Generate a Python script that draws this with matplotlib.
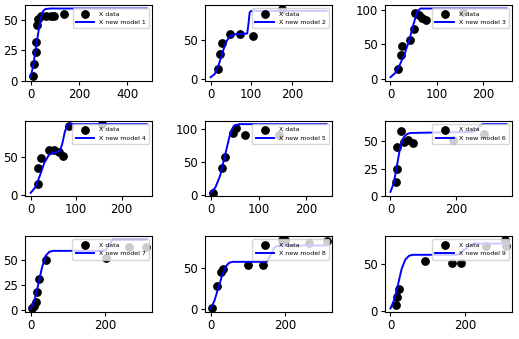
import matplotlib
matplotlib.use("Agg")
import matplotlib.pyplot as plt

# measured data points per panel
data_x = [
    [11, 14, 21, 21, 25, 32, 41, 62, 83, 97, 138],
    [17, 23, 27, 47, 72, 104, 176],
    [17, 23, 24, 43, 50, 53, 62, 69, 76, 157],
    [15, 17, 22, 40, 51, 62, 70, 84, 157],
    [5, 23, 30, 47, 54, 71, 143],
    [16, 20, 20, 31, 41, 54, 67, 190, 284],
    [3, 9, 15, 18, 22, 40, 202, 264, 310],
    [5, 18, 27, 34, 100, 140, 191, 200, 262, 310],
    [16, 18, 22, 93, 165, 190, 258, 307, 312],
]
data_y = [
    [4, 13.5, 24, 32, 46, 51, 53, 53, 53, 53, 55],
    [12, 32, 46, 58, 57, 55, 90],
    [14, 34, 47, 56, 72, 95, 93, 88, 86, 97],
    [14, 35, 48, 59, 58, 56, 51, 89, 92],
    [4, 41, 57, 94, 101, 90, 91],
    [13, 25, 44, 59, 49, 51, 48, 51, 56],
    [2, 4, 8, 18, 31, 50, 52, 63, 63],
    [2, 28, 46, 49, 54, 54, 85, 85, 81, 83],
    [7, 15.5, 24, 53, 51, 51, 69, 76, 69],
]

# fitted model curves
model_x = [
    [0, 10, 20, 30, 40, 50, 60, 80, 480],
    [0, 10, 20, 30, 40, 50, 60, 90, 93, 96, 100, 285],
    [0, 10, 20, 30, 40, 50, 58, 65, 250],
    [0, 10, 20, 30, 40, 50, 60, 65, 70, 75, 80, 85, 90, 255],
    [0, 10, 20, 30, 40, 45, 50, 60, 242],
    [0, 10, 20, 30, 40, 50, 60, 250, 260, 270, 280, 352],
    [0, 10, 20, 30, 40, 50, 60, 200, 210, 220, 312],
    [0, 10, 20, 30, 40, 50, 60, 150, 160, 170, 180, 310],
    [0, 10, 20, 30, 40, 50, 60, 180, 195, 210, 225, 312],
]
model_y = [
    [3, 12, 25, 38, 50, 57, 59, 59.5, 59.5],
    [2, 6, 18, 35, 49, 55, 57, 58, 70, 85, 87, 87],
    [2, 8, 20, 35, 55, 80, 98, 102, 102],
    [3, 10, 25, 42, 52, 55, 56, 58, 68, 82, 90, 92, 92, 92],
    [4, 12, 30, 60, 90, 100, 105, 107, 107],
    [4, 12, 28, 45, 53, 56, 57, 58, 60, 63, 65, 65],
    [2, 10, 25, 42, 54, 58, 59, 59, 64, 70, 70],
    [1, 10, 25, 40, 52, 57, 58, 58, 66, 75, 78, 78],
    [3, 12, 28, 45, 55, 59, 60, 60, 64, 69, 72, 72],
]

x_ticks = [
    [0, 200, 400], [0, 100, 200], [0, 100, 200],
    [0, 100, 200], [0, 100, 200], [0, 200],
    [0, 200], [0, 200], [0, 200],
]
y_ticks = [
    [0, 25, 50], [0, 50], [0, 50, 100],
    [0, 50], [0, 50, 100], [0, 25, 50],
    [0, 25, 50], [0, 50], [0, 50],
]

fig, axes = plt.subplots(3, 3, figsize=(5.19, 3.39), dpi=100)
fig.subplots_adjust(left=0.048, right=0.987, top=0.985, bottom=0.08,
                    wspace=0.41, hspace=0.53)

for i, ax in enumerate(axes.flat):
    ax.scatter(data_x[i], data_y[i], s=28, color='black', label='X data', zorder=2)
    ax.plot(model_x[i], model_y[i], color='blue', lw=1.4, label=f'X new model {i + 1}')
    ax.set_xticks(x_ticks[i])
    ax.set_yticks(y_ticks[i])
    ax.tick_params(labelsize=8.5, length=3, pad=2)
    ax.legend(loc='upper right', fontsize=4.5, borderpad=0.5, labelspacing=0.5,
              handlelength=3.0)

plt.savefig("out.png", dpi=100)
